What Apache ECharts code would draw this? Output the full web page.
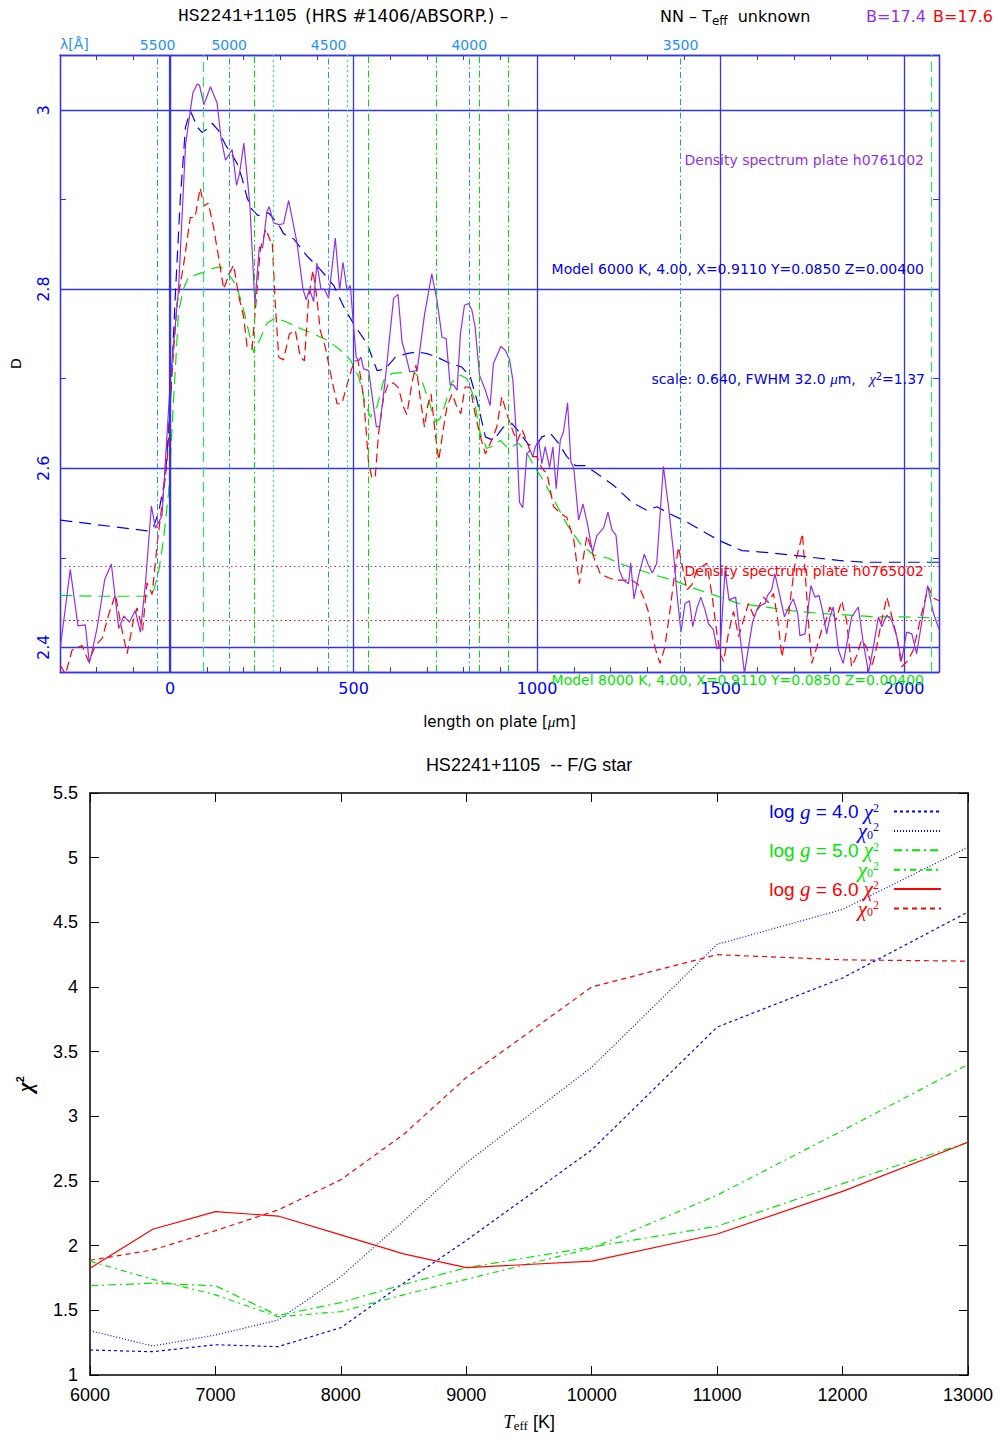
<!DOCTYPE html>
<html><head><meta charset="utf-8">
<script src="https://cdn.jsdelivr.net/npm/echarts@6/dist/echarts.min.js"></script>
<style>html,body{margin:0;padding:0;background:#fff}#c{width:999px;height:1438px}</style>
</head><body><div id="c"></div>
<script>
// ================= TOP PANEL DATA (x = length on plate [um], y = density D) =================
const h0761002 = [[-299,2.400],[-272,2.487],[-251,2.424],[-231,2.425],[-220,2.382],[-199,2.421],[-178,2.476],[-160,2.493],[-140,2.421],[-126,2.435],[-111,2.428],[-95,2.441],[-81,2.417],[-67,2.472],[-51,2.558],[-40,2.533],[-22,2.547],[1,2.700],[23,2.800],[42,2.961],[55,2.999],[62,3.019],[74,3.029],[80,3.028],[92,3.006],[110,3.026],[128,3.008],[139,2.968],[151,2.944],[169,2.956],[181,2.916],[189,2.929],[201,2.963],[217,2.896],[231,2.784],[243,2.847],[252,2.846],[264,2.887],[270,2.892],[282,2.874],[296,2.872],[309,2.873],[323,2.899],[346,2.851],[362,2.800],[371,2.788],[380,2.800],[391,2.786],[400,2.829],[411,2.800],[420,2.800],[432,2.790],[450,2.857],[462,2.799],[471,2.830],[482,2.799],[491,2.804],[500,2.758],[507,2.724],[514,2.720],[520,2.724],[527,2.711],[541,2.709],[562,2.646],[571,2.647],[586,2.698],[609,2.790],[621,2.794],[632,2.741],[641,2.728],[653,2.708],[673,2.709],[693,2.771],[713,2.817],[727,2.788],[741,2.746],[752,2.745],[763,2.693],[772,2.693],[782,2.687],[791,2.750],[802,2.782],[813,2.784],[822,2.777],[831,2.758],[843,2.704],[859,2.687],[872,2.670],[881,2.717],[901,2.736],[913,2.732],[925,2.721],[934,2.698],[945,2.627],[952,2.562],[961,2.556],[972,2.616],[981,2.620],[988,2.613],[995,2.624],[1004,2.631],[1013,2.605],[1022,2.624],[1034,2.601],[1043,2.624],[1052,2.577],[1063,2.631],[1072,2.641],[1083,2.673],[1092,2.607],[1100,2.600],[1113,2.542],[1125,2.560],[1137,2.538],[1151,2.506],[1163,2.525],[1181,2.533],[1193,2.551],[1204,2.531],[1215,2.525],[1224,2.486],[1235,2.475],[1249,2.471],[1255,2.494],[1264,2.454],[1276,2.479],[1292,2.504],[1303,2.492],[1314,2.483],[1326,2.494],[1344,2.602],[1358,2.557],[1371,2.508],[1381,2.460],[1392,2.417],[1403,2.449],[1415,2.452],[1424,2.423],[1435,2.443],[1446,2.456],[1458,2.441],[1467,2.426],[1480,2.420],[1490,2.398],[1499,2.400],[1512,2.486],[1523,2.453],[1541,2.456],[1553,2.412],[1565,2.371],[1576,2.400],[1587,2.428],[1598,2.441],[1610,2.447],[1621,2.449],[1628,2.458],[1639,2.464],[1648,2.482],[1660,2.460],[1674,2.434],[1686,2.445],[1698,2.454],[1710,2.438],[1716,2.413],[1730,2.415],[1746,2.469],[1757,2.456],[1768,2.458],[1778,2.440],[1789,2.415],[1798,2.434],[1807,2.445],[1821,2.397],[1834,2.382],[1844,2.404],[1857,2.434],[1875,2.445],[1889,2.404],[1903,2.372],[1916,2.400],[1930,2.434],[1939,2.423],[1953,2.436],[1966,2.430],[1980,2.412],[1993,2.385],[2007,2.417],[2021,2.415],[2034,2.393],[2052,2.438],[2064,2.469],[2080,2.438],[2095,2.420]];
const h0765002 = [[-299,2.380],[-285,2.370],[-267,2.397],[-240,2.402],[-222,2.384],[-203,2.402],[-185,2.410],[-167,2.437],[-149,2.459],[-131,2.419],[-117,2.393],[-100,2.430],[-90,2.444],[-75,2.419],[-63,2.472],[-49,2.459],[-35,2.516],[-22,2.560],[-8,2.608],[5,2.705],[19,2.784],[37,2.828],[55,2.880],[68,2.880],[82,2.913],[92,2.893],[104,2.896],[118,2.870],[132,2.836],[146,2.800],[160,2.816],[173,2.827],[187,2.792],[200,2.770],[210,2.735],[223,2.733],[232,2.775],[246,2.845],[261,2.867],[273,2.854],[278,2.855],[287,2.780],[296,2.724],[309,2.721],[325,2.750],[341,2.754],[355,2.724],[366,2.720],[377,2.788],[389,2.821],[400,2.790],[409,2.754],[423,2.735],[440,2.700],[455,2.672],[468,2.672],[480,2.690],[491,2.706],[502,2.720],[512,2.720],[527,2.680],[541,2.605],[550,2.589],[559,2.590],[568,2.639],[582,2.680],[595,2.695],[609,2.695],[622,2.690],[636,2.668],[645,2.660],[659,2.695],[670,2.715],[681,2.680],[693,2.646],[702,2.670],[711,2.683],[722,2.640],[732,2.609],[743,2.640],[754,2.668],[768,2.683],[780,2.670],[792,2.661],[804,2.691],[818,2.690],[829,2.665],[843,2.639],[859,2.616],[875,2.630],[890,2.646],[904,2.680],[918,2.660],[936,2.639],[946,2.630],[959,2.643],[972,2.630],[986,2.613],[999,2.613],[1013,2.600],[1027,2.594],[1036,2.575],[1045,2.557],[1063,2.550],[1081,2.545],[1100,2.520],[1115,2.471],[1126,2.500],[1136,2.525],[1155,2.500],[1172,2.482],[1193,2.478],[1213,2.475],[1235,2.475],[1258,2.475],[1275,2.470],[1290,2.456],[1303,2.440],[1315,2.410],[1326,2.393],[1335,2.382],[1348,2.400],[1362,2.441],[1374,2.480],[1385,2.512],[1396,2.490],[1408,2.464],[1422,2.470],[1435,2.486],[1449,2.490],[1462,2.494],[1476,2.460],[1490,2.415],[1499,2.393],[1508,2.384],[1521,2.415],[1535,2.440],[1549,2.412],[1562,2.430],[1576,2.449],[1590,2.435],[1603,2.445],[1617,2.456],[1630,2.450],[1644,2.460],[1656,2.430],[1667,2.389],[1680,2.419],[1692,2.460],[1703,2.494],[1713,2.510],[1723,2.527],[1731,2.480],[1739,2.430],[1748,2.382],[1762,2.400],[1775,2.419],[1787,2.430],[1798,2.445],[1814,2.430],[1830,2.452],[1843,2.430],[1857,2.378],[1870,2.390],[1884,2.408],[1898,2.400],[1912,2.378],[1925,2.400],[1939,2.430],[1953,2.456],[1966,2.435],[1980,2.412],[1993,2.378],[2010,2.385],[2025,2.397],[2038,2.420],[2052,2.445],[2066,2.467],[2080,2.455],[2095,2.452]];
const model6000 = [[-299,2.542],[-200,2.537],[-100,2.532],[-63,2.530],[-45,2.535],[-31,2.551],[-13,2.590],[1,2.674],[14,2.792],[28,2.902],[42,2.981],[55,2.999],[65,2.990],[74,2.981],[87,2.975],[101,2.979],[115,2.985],[132,2.977],[151,2.961],[169,2.950],[183,2.940],[196,2.924],[210,2.902],[223,2.889],[240,2.882],[255,2.885],[269,2.885],[287,2.876],[300,2.869],[309,2.862],[337,2.856],[373,2.837],[409,2.822],[446,2.804],[477,2.777],[505,2.758],[537,2.739],[564,2.709],[586,2.711],[614,2.724],[645,2.728],[673,2.730],[700,2.728],[727,2.724],[763,2.717],[795,2.713],[818,2.702],[836,2.676],[859,2.635],[881,2.631],[908,2.646],[918,2.646],[931,2.650],[954,2.639],[977,2.626],[999,2.626],[1013,2.635],[1036,2.639],[1058,2.628],[1081,2.613],[1104,2.603],[1131,2.603],[1163,2.594],[1208,2.581],[1258,2.562],[1299,2.553],[1326,2.557],[1362,2.549],[1408,2.540],[1462,2.527],[1503,2.518],[1558,2.508],[1621,2.506],[1694,2.503],[1757,2.500],[1821,2.497],[1894,2.495],[1966,2.495],[2030,2.495],[2066,2.495],[2095,2.495]];
const model8000 = [[-299,2.458],[-200,2.457],[-100,2.457],[-58,2.457],[-45,2.463],[-31,2.485],[-18,2.520],[-4,2.573],[10,2.680],[23,2.775],[37,2.801],[51,2.814],[69,2.816],[92,2.819],[114,2.823],[137,2.825],[155,2.819],[178,2.806],[196,2.784],[214,2.753],[228,2.729],[246,2.745],[264,2.762],[287,2.768],[319,2.763],[355,2.756],[391,2.750],[428,2.743],[464,2.732],[491,2.721],[514,2.702],[532,2.672],[546,2.657],[564,2.669],[582,2.698],[605,2.706],[636,2.707],[663,2.708],[686,2.698],[704,2.676],[723,2.652],[735,2.655],[750,2.672],[768,2.696],[791,2.704],[809,2.700],[827,2.680],[845,2.639],[863,2.622],[880,2.625],[900,2.631],[922,2.622],[949,2.628],[972,2.617],[995,2.600],[1013,2.589],[1036,2.572],[1058,2.555],[1086,2.534],[1117,2.516],[1154,2.503],[1190,2.500],[1235,2.492],[1281,2.486],[1326,2.480],[1371,2.475],[1426,2.466],[1485,2.458],[1549,2.449],[1621,2.445],[1694,2.441],[1766,2.438],[1848,2.436],[1921,2.434],[1993,2.434],[2066,2.433],[2095,2.433]];
const waveLineX = [-34, 161, 432, 815, 1391];
const waveLabels = ['5500', '5000', '4500', '4000', '3500'];
const greenDashX = [90, 2075];
const greenDashDotX = [228, 539, 725, 843, 922];
const greenDotX = [281, 482];
const axisZeroX = [0];
const levelH0761002 = 2.4905;
const levelH0765002 = 2.430;

// ================= BOTTOM PANEL DATA =================
const teff = [6000, 6500, 7000, 7500, 8000, 8500, 9000, 10000, 11000, 12000, 13000];
const g40chi2  = [1.193, 1.180, 1.234, 1.219, 1.366, 1.710, 2.040, 2.740, 3.690, 4.070, 4.580];
const g40chi02 = [1.343, 1.224, 1.309, 1.425, 1.760, 2.190, 2.640, 3.380, 4.330, 4.600, 5.080];
const g50chi2  = [1.690, 1.710, 1.690, 1.460, 1.560, 1.700, 1.830, 1.990, 2.150, 2.480, 2.800];
const g50chi02 = [1.880, 1.740, 1.620, 1.450, 1.490, 1.620, 1.740, 1.980, 2.390, 2.890, 3.400];
const g60chi2  = [1.825, 2.127, 2.263, 2.229, 2.083, 1.936, 1.830, 1.880, 2.090, 2.420, 2.800];
const g60chi02 = [1.887, 1.967, 2.116, 2.276, 2.510, 2.860, 3.300, 4.000, 4.250, 4.210, 4.200];

// ================= STYLE =================
const FRAME = '#3434ee';
const PURPLE = '#9030ee';
const WAVE = '#1e90ff';
const BLUE = '#0000ff';
const GREEN = '#00e600';
const RED = '#ff0000';
const SANS = 'DejaVu Sans';
const GS = 'Liberation Sans';
const SERIF = 'Liberation Serif';
const plain = v => String(+(+v).toFixed(3));

const vLine = (xs, color, type, width) => ({
  type: 'line', data: [], xAxisIndex: 0, yAxisIndex: 0, silent: true,
  markLine: { symbol: ['none', 'none'], silent: true, animation: false,
    label: { show: false },
    lineStyle: { color: color, type: type, width: width || 1 },
    data: xs.map(x => ({ xAxis: x })) }
});

const pair = arr => teff.map((t, i) => [t, arr[i]]);
const bSeries = (name, arr, color, type) => ({
  name: name, type: 'line', xAxisIndex: 2, yAxisIndex: 2, data: pair(arr),
  symbol: 'none', showSymbol: false, lineStyle: { color: color, width: 1.2, type: type },
  itemStyle: { color: color }
});

const legendText = {
  g40chi2: '{t|log }{g|g}{t| = 4.0 }{x|χ}{s|2}',
  g40chi02: '{x|χ}{b|0}{s|2}',
  g50chi2: '{t|log }{g|g}{t| = 5.0 }{x|χ}{s|2}',
  g50chi02: '{x|χ}{b|0}{s|2}',
  g60chi2: '{t|log }{g|g}{t| = 6.0 }{x|χ}{s|2}',
  g60chi02: '{x|χ}{b|0}{s|2}'
};

const chart = echarts.init(document.getElementById('c'), null, { renderer: 'svg' });

const topX = (pos, labels) => ({
  gridIndex: 0, type: 'value', min: -300, max: 2095, splitNumber: 5, position: pos,
  axisLine: { show: true, onZero: false, lineStyle: { color: FRAME, width: 1.3 } },
  axisTick: { show: !labels, inside: true, length: 7, lineStyle: { color: FRAME } },
  minorTick: { show: true, splitNumber: 5, length: 5, lineStyle: { color: FRAME, width: 1 } },
  axisLabel: labels ? { show: true, color: BLUE, fontSize: 16, fontFamily: SANS, margin: 8, showMinLabel: false, showMaxLabel: false, formatter: plain } : { show: false },
  splitLine: { show: labels, lineStyle: { color: FRAME, width: 1.3 } }
});
const topY = (pos, labels) => ({
  gridIndex: 0, type: 'value', min: 2.3724, max: 3.0615, splitNumber: 3, position: pos,
  axisLine: { show: true, onZero: false, lineStyle: { color: FRAME, width: 1.3 } },
  axisTick: { show: !labels, inside: true, length: 7, lineStyle: { color: FRAME } },
  minorTick: { show: true, splitNumber: 2, length: 6, lineStyle: { color: FRAME, width: 1 } },
  axisLabel: labels ? { show: true, rotate: 90, color: BLUE, fontSize: 16, fontFamily: SANS, margin: 9, showMinLabel: false, showMaxLabel: false, formatter: plain } : { show: false },
  splitLine: { show: labels, lineStyle: { color: FRAME, width: 1.3 } }
});
const botX = (pos, labels) => ({
  gridIndex: 1, type: 'value', min: 6000, max: 13000, interval: 1000, position: pos,
  axisLine: { show: true, onZero: false, lineStyle: { color: '#000', width: 1.5 } },
  axisTick: { show: true, inside: true, length: 9, lineStyle: { color: '#000', width: 1 } },
  axisLabel: labels ? { show: true, color: '#000', fontSize: 18, fontFamily: GS, margin: 11, formatter: plain } : { show: false },
  splitLine: { show: false }
});
const botY = (pos, labels) => ({
  gridIndex: 1, type: 'value', min: 1, max: 5.5, interval: 0.5, position: pos,
  axisLine: { show: true, onZero: false, lineStyle: { color: '#000', width: 1.5 } },
  axisTick: { show: true, inside: true, length: 9, lineStyle: { color: '#000', width: 1 } },
  axisLabel: labels ? { show: true, color: '#000', fontSize: 18, fontFamily: GS, margin: 12, formatter: plain } : { show: false },
  splitLine: { show: false }
});

const xTop0 = topX('bottom', true);
xTop0.name = '{n|length on plate [}{m|μ}{n|m]}';
xTop0.nameLocation = 'middle'; xTop0.nameGap = 42; xTop0.nameMoveOverlap = false;
xTop0.nameTextStyle = { color: '#000', rich: { n: { fontSize: 15, fontFamily: SANS, color: '#000' }, m: { fontSize: 15, fontFamily: SERIF, fontStyle: 'italic', color: '#000' } } };
const yTop0 = topY('left', true);
yTop0.name = 'D'; yTop0.nameLocation = 'middle'; yTop0.nameRotate = 90; yTop0.nameGap = 37; yTop0.nameMoveOverlap = false;
yTop0.nameTextStyle = { color: '#000', fontSize: 14, fontFamily: SANS };
const xBot0 = botX('bottom', true);
xBot0.name = '{t|T}{e|eff}{k| [K]}'; xBot0.nameLocation = 'middle'; xBot0.nameGap = 36; xBot0.nameMoveOverlap = false;
xBot0.nameTextStyle = { rich: { t: { fontFamily: SERIF, fontStyle: 'italic', fontSize: 19, color: '#000' }, e: { fontFamily: SERIF, fontSize: 13, color: '#000', verticalAlign: 'bottom', padding: [8, 0, 0, 0] }, k: { fontFamily: GS, fontSize: 18, color: '#000' } } };
const yBot0 = botY('left', true);
yBot0.name = '{x|χ}{s|2}'; yBot0.nameLocation = 'middle'; yBot0.nameRotate = 90; yBot0.nameGap = 55; yBot0.nameMoveOverlap = false;
yBot0.nameTextStyle = { rich: { x: { fontFamily: SERIF, fontStyle: 'italic', fontWeight: 'bold', fontSize: 21, color: '#000' }, s: { fontSize: 11, fontWeight: 'bold', color: '#000', verticalAlign: 'top' } } };

const option = {
  animation: false,
  backgroundColor: '#fff',
  grid: [
    { left: 60, top: 55, width: 879, height: 617, outerBoundsMode: 'none', containLabel: false },
    { left: 90, top: 793, width: 878, height: 582, outerBoundsMode: 'none', containLabel: false }
  ],
  xAxis: [xTop0, topX('top', false), xBot0, botX('top', false)],
  yAxis: [yTop0, topY('right', false), yBot0, botY('right', false)],
  legend: {
    data: [
      { name: 'g40chi2', textStyle: { color: BLUE } },
      { name: 'g40chi02', textStyle: { color: BLUE } },
      { name: 'g50chi2', textStyle: { color: GREEN } },
      { name: 'g50chi02', textStyle: { color: GREEN } },
      { name: 'g60chi2', textStyle: { color: RED } },
      { name: 'g60chi02', textStyle: { color: RED } }
    ],
    orient: 'vertical', align: 'right', right: 52, top: 796,
    itemWidth: 47, itemHeight: 12, itemGap: -1.6, selectedMode: false,
    itemStyle: { color: 'rgba(0,0,0,0)', borderColor: 'rgba(0,0,0,0)', borderWidth: 0, opacity: 0 },
    formatter: name => legendText[name],
    textStyle: { fontSize: 19, lineHeight: 19.5, padding: [0, 10, 0, 0],
      rich: {
        t: { fontFamily: GS, fontSize: 19, lineHeight: 19.5 },
        g: { fontFamily: SERIF, fontStyle: 'italic', fontSize: 21, lineHeight: 19.5 },
        x: { fontFamily: SERIF, fontStyle: 'italic', fontSize: 21, lineHeight: 19.5 },
        s: { fontFamily: SERIF, fontSize: 12, verticalAlign: 'top', lineHeight: 19.5 },
        b: { fontFamily: SERIF, fontSize: 12, verticalAlign: 'bottom', lineHeight: 19.5 }
      } }
  },
  series: [
    // reference lines (top panel)
    vLine(greenDotX, '#22ee88', [2, 3], 1.2),
    vLine(greenDashX, '#33dd66', [10, 5], 1.2),
    vLine(greenDashDotX, '#00dd00', [7, 3, 1.5, 3], 1),
    {
      type: 'line', data: [], xAxisIndex: 0, yAxisIndex: 0, silent: true,
      markLine: { symbol: ['none', 'none'], silent: true, animation: false,
        lineStyle: { color: WAVE, type: [6, 3, 1.5, 3], width: 1 },
        label: { show: true, position: 'end', distance: 3, color: WAVE, fontSize: 14, fontFamily: SANS },
        data: waveLineX.map((x, i) => ({ xAxis: x, label: { formatter: waveLabels[i] } })) }
    },
    vLine(axisZeroX, FRAME, 'solid', 2.2),
    {
      type: 'line', data: [], xAxisIndex: 0, yAxisIndex: 0, silent: true,
      markLine: { symbol: ['none', 'none'], silent: true, animation: false, label: { show: false },
        data: [
          { yAxis: levelH0761002, lineStyle: { color: PURPLE, type: [1.5, 3], width: 1.2 } },
          { yAxis: levelH0765002, lineStyle: { color: RED, type: [1.5, 3], width: 1.2 } }
        ] }
    },
    { name: 'model 8000 K', type: 'line', xAxisIndex: 0, yAxisIndex: 0, data: model8000, symbol: 'none', lineStyle: { color: GREEN, width: 1.2, type: [12, 7] } },
    { name: 'model 6000 K', type: 'line', xAxisIndex: 0, yAxisIndex: 0, data: model6000, symbol: 'none', lineStyle: { color: BLUE, width: 1.2, type: [12, 7] } },
    { name: 'h0765002', type: 'line', xAxisIndex: 0, yAxisIndex: 0, data: h0765002, symbol: 'none', lineStyle: { color: RED, width: 1.2, type: [9, 5] } },
    { name: 'h0761002', type: 'line', xAxisIndex: 0, yAxisIndex: 0, data: h0761002, symbol: 'none', lineStyle: { color: PURPLE, width: 1.2 } },
    // bottom panel
    bSeries('g40chi2', g40chi2, BLUE, [3, 3]),
    bSeries('g40chi02', g40chi02, BLUE, [1, 2]),
    bSeries('g50chi2', g50chi2, GREEN, [8, 4, 2, 4]),
    bSeries('g50chi02', g50chi02, GREEN, [6, 4, 2, 4]),
    bSeries('g60chi2', g60chi2, RED, 'solid'),
    bSeries('g60chi02', g60chi02, RED, [5, 4])
  ],
  graphic: [
    { type: 'text', x: 178, y: 16, style: { text: 'HS2241+1105', font: '18px "Liberation Mono"', fill: '#000', align: 'left', verticalAlign: 'middle' } },
    { type: 'text', x: 305, y: 16, style: { text: '(HRS #1406/ABSORP.) –', font: '17px "DejaVu Sans"', fill: '#000', align: 'left', verticalAlign: 'middle' } },
    { type: 'text', x: 660, y: 16, style: { text: '{a|NN – T}{s|eff}{a|  unknown}', fill: '#000', align: 'left', verticalAlign: 'middle',
      rich: { a: { fontSize: 16, fontFamily: SANS, fill: '#000' }, s: { fontSize: 12, fontFamily: SANS, fill: '#000', verticalAlign: 'bottom', padding: [10, 0, 0, 0] } } } },
    { type: 'text', x: 866, y: 16, style: { text: 'B=17.4', font: '16px "DejaVu Sans"', fill: PURPLE, align: 'left', verticalAlign: 'middle' } },
    { type: 'text', x: 933, y: 16, style: { text: 'B=17.6', font: '16px "DejaVu Sans"', fill: RED, align: 'left', verticalAlign: 'middle' } },
    { type: 'text', x: 60, y: 44, style: { text: 'λ[Å]', font: '14px "DejaVu Sans"', fill: WAVE, align: 'left', verticalAlign: 'middle' } },
    { type: 'text', x: 924, y: 160, z: 50, style: { text: 'Density spectrum plate h0761002', font: '14px "DejaVu Sans"', fill: PURPLE, align: 'right', verticalAlign: 'middle' } },
    { type: 'text', x: 924, y: 269, z: 50, style: { text: 'Model 6000 K, 4.00, X=0.9110 Y=0.0850 Z=0.00400', font: '14px "DejaVu Sans"', fill: '#0000ee', align: 'right', verticalAlign: 'middle' } },
    { type: 'text', x: 925, y: 379, z: 50, style: { text: '{a|scale: 0.640, FWHM 32.0 }{m|μ}{a|m,   }{m|χ}{s|2}{a|=1.37}', fill: '#0000ee', align: 'right', verticalAlign: 'middle',
      rich: { a: { fontSize: 14, fontFamily: SANS, fill: '#0000ee' }, m: { fontSize: 15, fontFamily: SERIF, fontStyle: 'italic', fill: '#0000ee' }, s: { fontSize: 10, fontFamily: SANS, fill: '#0000ee', verticalAlign: 'top' } } } },
    { type: 'text', x: 924, y: 571, z: 50, style: { text: 'Density spectrum plate h0765002', font: '14px "DejaVu Sans"', fill: RED, align: 'right', verticalAlign: 'middle' } },
    { type: 'text', x: 924, y: 680, z: 50, style: { text: 'Model 8000 K, 4.00, X=0.9110 Y=0.0850 Z=0.00400', font: '14px "DejaVu Sans"', fill: GREEN, align: 'right', verticalAlign: 'middle' } },
    { type: 'text', x: 529, y: 765, style: { text: 'HS2241+1105  -- F/G star', font: '18px "Liberation Sans"', fill: '#000', align: 'center', verticalAlign: 'middle' } }
  ]
};
chart.setOption(option);
</script></body></html>
